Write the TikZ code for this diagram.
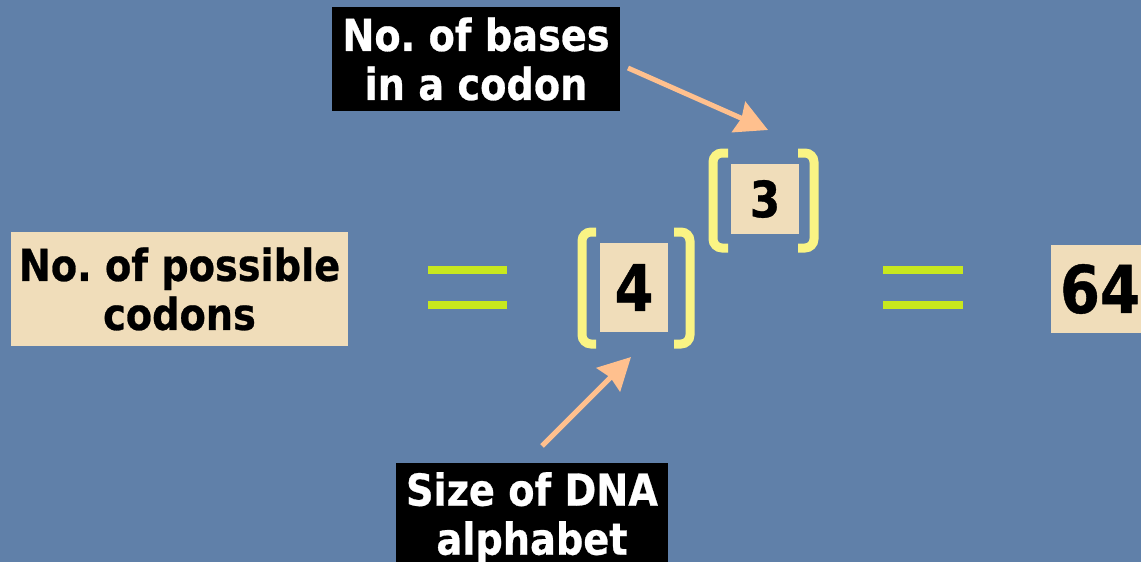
\documentclass[tikz,border=0pt]{standalone}
\usepackage{fontspec}
\usetikzlibrary{arrows.meta}
\newfontfamily\tah[FakeStretch=0.87,FakeBold=0.6]{DejaVu Sans}
\definecolor{bgblue}{RGB}{96,128,169}
\definecolor{beige}{RGB}{240,221,186}
\definecolor{brk}{RGB}{250,244,132}
\definecolor{eqgreen}{RGB}{200,232,30}
\definecolor{salmon}{RGB}{255,192,142}
\tikzset{
  beigebox/.style={fill=beige, inner sep=0pt, align=center, text=black,
    font=\tah\bfseries\fontsize{44}{49}\selectfont},
  blackbox/.style={fill=black, inner sep=0pt, align=center, text=white,
    font=\tah\bfseries\fontsize{44}{49}\selectfont},
  bracket/.style={draw=brk, line width=9pt, rounded corners=9pt},
  eqbar/.style={fill=eqgreen},
  pointer/.style={draw=salmon, line width=5pt, -{Stealth[length=32pt,width=33pt,inset=3pt]}}
}
\begin{document}
\begin{tikzpicture}[x=1pt,y=-1pt]
\useasboundingbox (0,0) rectangle (1141,562);
\clip (0,0) rectangle (1141,562);
\fill[bgblue] (0,0) rectangle (1141,562);
% left label
\node[beigebox, minimum width=337pt, minimum height=114pt] (lhs) at (179.5,289) {No.\ of possible\\codons};
% first equals
\fill[eqbar] (428,266) rectangle (507,274);
\fill[eqbar] (428,301) rectangle (507,309);
% base 4
\node[beigebox, minimum width=68pt, minimum height=89pt, font=\tah\bfseries\fontsize{64}{70}\selectfont] (four) at (634,287.5) {4};
\draw[bracket] (596,232) -- (582,232) -- (582,344) -- (596,344);
\draw[bracket] (674,232) -- (690,232) -- (690,344) -- (674,344);
% exponent 3
\node[beigebox, minimum width=68pt, minimum height=70pt, font=\tah\bfseries\fontsize{50}{56}\selectfont] (three) at (765,199) {3};
\draw[bracket] (728,153) -- (713,153) -- (713,248) -- (728,248);
\draw[bracket] (798,153) -- (814,153) -- (814,248) -- (798,248);
% second equals
\fill[eqbar] (883,266) rectangle (963,274);
\fill[eqbar] (883,301) rectangle (963,309);
% result
\node[beigebox, minimum width=98pt, minimum height=88pt, font=\tah\bfseries\fontsize{66}{72}\selectfont] (res) at (1100,289) {64};
% top label
\node[blackbox, minimum width=288pt, minimum height=104pt] (bases) at (476,59) {No.\ of bases\\in a codon};
% bottom label
\node[blackbox, minimum width=272pt, minimum height=110pt] (alpha) at (532,518) {Size of DNA\\alphabet};
% pointers
\coordinate (ts) at (628,68);
\coordinate (tt) at (768,130);
\coordinate (bs) at (542,446);
\coordinate (bt) at (631,357);
\draw[pointer] (ts) -- (tt);
\draw[pointer] (bs) -- (bt);
\end{tikzpicture}
\end{document}
